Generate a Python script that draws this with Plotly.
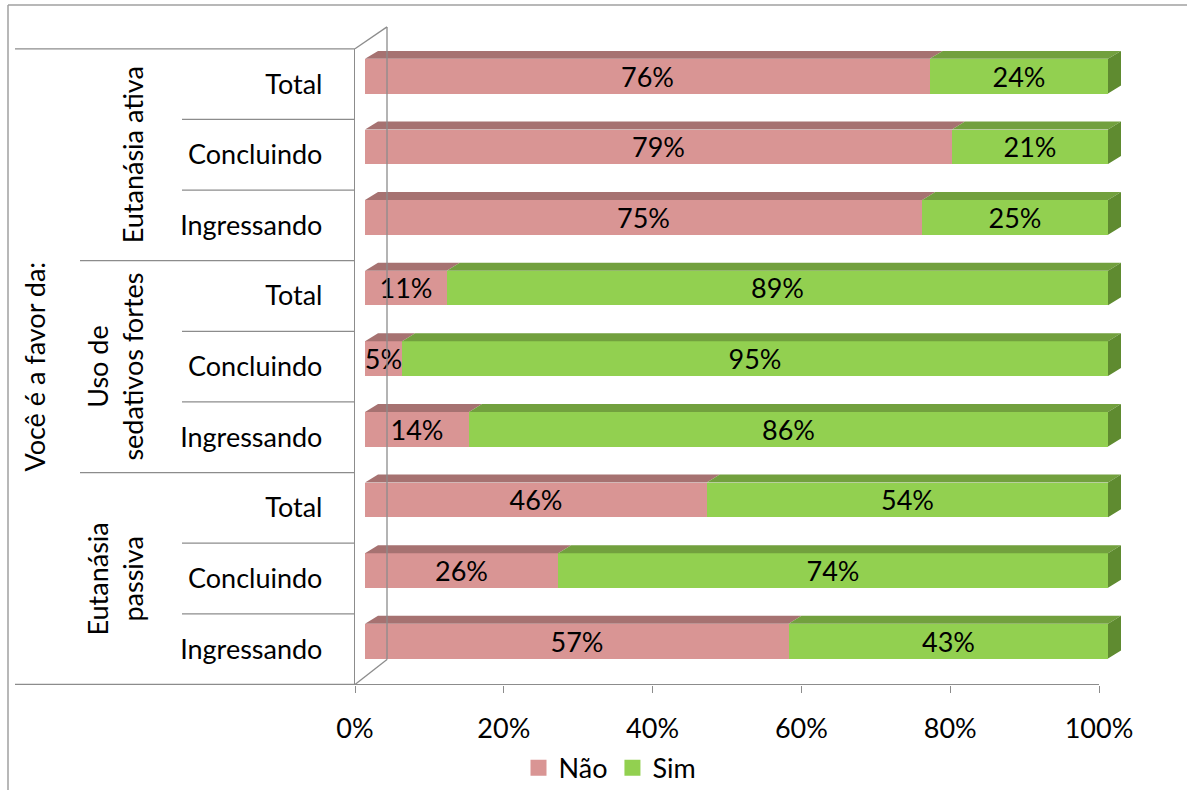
import plotly.graph_objects as go

# ---------------- data ----------------
groups = ["Eutanásia<br>passiva", "Uso de<br>sedativos fortes", "Eutanásia ativa"]
subcats = ["Ingressando", "Concluindo", "Total"]
# order bottom -> top
nao = [57, 26, 46, 14, 5, 11, 75, 79, 76]
sim = [43, 74, 54, 86, 95, 89, 25, 21, 24]
tick_vals = [0, 0.2, 0.4, 0.6, 0.8, 1.0]
axis_title = "Você é a favor da:"
series_names = ["Não", "Sim"]

# ---------------- style ----------------
W, H = 1187, 793
FONT = "Lato"
FS = 27
PINK, PINK_TOP = "#D99594", "#A67271"
GREEN, GREEN_TOP, GREEN_SIDE = "#92D050", "#72A03E", "#5F8B30"
LINE = "#8C8C8C"

def px_x(p):
    return p / W

def px_y(p):
    return (H - p) / H

n = len(nao)
labels = [subcats[i % 3] for i in range(n)]
pos = list(range(n))
nao_f = [v / 100 for v in nao]
sim_f = [v / 100 for v in sim]

# axis geometry (pixels)
AX_X0, AX_X1 = 355, 1099       # front axis 0%..100%
BAR_X0, BAR_X1 = 365, 1108     # bar front faces 0%..100%
PL_TOP, PL_BOT = 49, 687       # category band extent
SHIFT = 8                      # bars shifted up (3D depth)
DX_PX, DY_PX = 13, 8           # bar depth

band = (PL_BOT - PL_TOP) / n
dx = DX_PX / (BAR_X1 - BAR_X0)
dy = DY_PX / band
bw = 0.49

fig = go.Figure()

# front faces
fig.add_trace(go.Bar(
    y=pos, x=nao_f, orientation="h", name=series_names[0], marker=dict(color=PINK, line=dict(width=0)),
    width=bw, text=[f"{v}%" for v in nao], textposition="inside", insidetextanchor="middle",
    textangle=0, constraintext="none", textfont=dict(family=FONT, size=FS, color="black"),
    xaxis="x2", yaxis="y2", showlegend=False, hoverinfo="skip"))
fig.add_trace(go.Bar(
    y=pos, x=sim_f, orientation="h", name=series_names[1], marker=dict(color=GREEN, line=dict(width=0)),
    width=bw, text=[f"{v}%" for v in sim], textposition="inside", insidetextanchor="middle",
    textangle=0, constraintext="none", textfont=dict(family=FONT, size=FS, color="black"),
    xaxis="x2", yaxis="y2", showlegend=False, hoverinfo="skip"))

# top faces & side face (computed from data)
def top_poly(starts, ends):
    xs, ys = [], []
    for i in range(n):
        yt = pos[i] + bw / 2
        x0, x1 = starts[i], ends[i]
        xs += [x0, x0 + dx, x1 + dx, x1, x0, None]
        ys += [yt, yt + dy, yt + dy, yt, yt, None]
    return xs, ys

xs, ys = top_poly([0] * n, nao_f)
fig.add_trace(go.Scatter(x=xs, y=ys, fill="toself", fillcolor=PINK_TOP, mode="lines",
                         line=dict(width=0), xaxis="x2", yaxis="y2", showlegend=False, hoverinfo="skip"))
xs, ys = top_poly(nao_f, [a + b for a, b in zip(nao_f, sim_f)])
fig.add_trace(go.Scatter(x=xs, y=ys, fill="toself", fillcolor=GREEN_TOP, mode="lines",
                         line=dict(width=0), xaxis="x2", yaxis="y2", showlegend=False, hoverinfo="skip"))
sx, sy = [], []
for i in range(n):
    e = nao_f[i] + sim_f[i]
    yb, yt = pos[i] - bw / 2, pos[i] + bw / 2
    sx += [e, e, e + dx, e + dx, e, None]
    sy += [yb, yt, yt + dy, yb + dy, yb, None]
fig.add_trace(go.Scatter(x=sx, y=sy, fill="toself", fillcolor=GREEN_SIDE, mode="lines",
                         line=dict(width=0), xaxis="x2", yaxis="y2", showlegend=False, hoverinfo="skip"))

# legend entries (on label axes so they render)
for nm, col in zip(series_names, [PINK, GREEN]):
    fig.add_trace(go.Scatter(x=[None], y=[None], mode="markers", name=nm,
                             marker=dict(symbol="square", size=16, color=col),
                             xaxis="x", yaxis="y", hoverinfo="skip"))

# ---------------- layout ----------------
shapes = []
def line(x0, y0, x1, y1, color=LINE, w=1.3):
    shapes.append(dict(type="line", xref="paper", yref="paper",
                       x0=px_x(x0), y0=px_y(y0), x1=px_x(x1), y1=px_y(y1),
                       line=dict(color=color, width=w)))

# chart border (left and top edges visible)
line(8, 5, 8, H, color="#A0A0A0", w=1.5)
line(8, 5, W, 5, color="#A0A0A0", w=1.5)
# 3D walls
line(387, 27, 387, 662)
line(355, PL_TOP, 387, 27)
line(355, PL_BOT, 387, 662)
# category separators
line(15, PL_TOP, 355, PL_TOP)
line(15, PL_BOT, 355, PL_BOT)
for k in range(1, n):
    yy = PL_BOT - k * band
    x0 = 80 if k % 3 == 0 else 182
    line(x0, yy, 355, yy)

annotations = []
annotations.append(dict(text=axis_title, textangle=-90, xref="paper", yref="paper",
                        x=px_x(35), y=px_y((PL_TOP + PL_BOT) / 2), xanchor="center", yanchor="middle",
                        showarrow=False, font=dict(family=FONT, size=FS, color="black")))
for g, name in enumerate(groups):
    cy = PL_BOT - (g * 3 + 1.5) * band
    annotations.append(dict(text=name, textangle=-90, xref="paper", yref="paper",
                            x=px_x(151), y=px_y(cy), xanchor="right", yanchor="middle", align="center",
                            showarrow=False, font=dict(family=FONT, size=FS, color="black")))

fig.update_layout(
    width=W, height=H, margin=dict(l=0, r=0, t=0, b=0, pad=0),
    paper_bgcolor="white", plot_bgcolor="rgba(0,0,0,0)",
    barmode="stack", bargap=0,
    font=dict(family=FONT, size=FS, color="black"),
    xaxis=dict(domain=[px_x(AX_X0), px_x(AX_X1)], range=[0, 1], anchor="y", automargin=False,
               tickvals=tick_vals, tickformat=".0%", showgrid=False, zeroline=False,
               showline=True, linecolor=LINE, linewidth=1.3, ticks="outside", ticklen=7,
               tickcolor=LINE, tickwidth=1.3, ticklabelstandoff=13,
               tickfont=dict(family=FONT, size=FS, color="black")),
    yaxis=dict(domain=[px_y(PL_BOT), px_y(PL_TOP)], range=[-0.5, n - 0.5], anchor="x", automargin=False,
               tickvals=pos, ticktext=labels, showgrid=False, zeroline=False,
               showline=True, linecolor=LINE, linewidth=1.3, ticks="", ticklabelstandoff=26,
               tickfont=dict(family=FONT, size=FS, color="black")),
    xaxis2=dict(domain=[px_x(BAR_X0), px_x(BAR_X1 + DX_PX)], range=[0, 1 + dx], anchor="y2",
                visible=False, automargin=False),
    yaxis2=dict(domain=[px_y(PL_BOT - SHIFT), px_y(PL_TOP - SHIFT)], range=[-0.5, n - 0.5],
                anchor="x2", visible=False, automargin=False),
    legend=dict(orientation="h", x=px_x(610), xanchor="center", y=px_y(771), yanchor="middle",
                traceorder="normal",
                font=dict(family=FONT, size=FS, color="black"), bgcolor="rgba(0,0,0,0)",
                itemclick=False, itemdoubleclick=False),
    shapes=shapes, annotations=annotations,
)

fig.write_html("out.html")
